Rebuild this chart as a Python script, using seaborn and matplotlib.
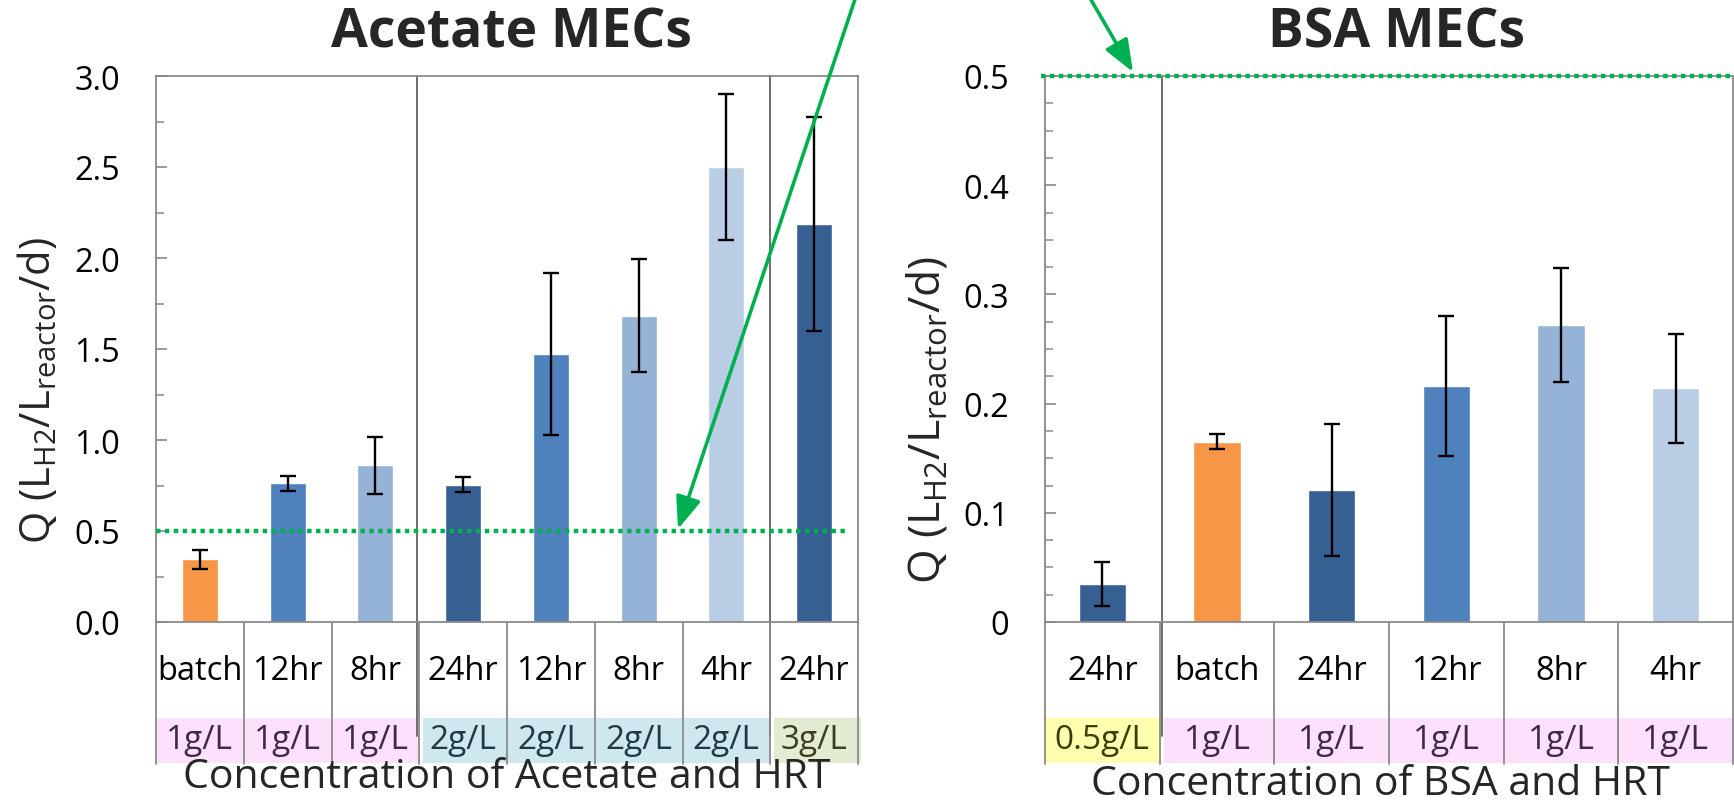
import numpy as np
import pandas as pd
import matplotlib
matplotlib.use("Agg")
import matplotlib.pyplot as plt
import seaborn as sns
from matplotlib import transforms
from matplotlib.lines import Line2D
from matplotlib.patches import Rectangle, FancyArrowPatch
from matplotlib.ticker import MultipleLocator, FuncFormatter

# ---------------- data ----------------
acetate_hrt = ["batch", "12hr", "8hr", "24hr", "12hr", "8hr", "4hr", "24hr"]
acetate_conc = ["1g/L", "1g/L", "1g/L", "2g/L", "2g/L", "2g/L", "2g/L", "3g/L"]
acetate_q = [0.345, 0.763, 0.862, 0.753, 1.474, 1.681, 2.50, 2.187]
acetate_lo = [0.293, 0.720, 0.705, 0.712, 1.027, 1.372, 2.10, 1.597]
acetate_hi = [0.393, 0.803, 1.018, 0.798, 1.919, 1.996, 2.899, 2.776]

bsa_hrt = ["24hr", "batch", "24hr", "12hr", "8hr", "4hr"]
bsa_conc = ["0.5g/L", "1g/L", "1g/L", "1g/L", "1g/L", "1g/L"]
bsa_q = [0.035, 0.165, 0.121, 0.216, 0.272, 0.214]
bsa_lo = [0.015, 0.158, 0.060, 0.152, 0.220, 0.164]
bsa_hi = [0.055, 0.1725, 0.181, 0.280, 0.324, 0.264]

threshold = 0.5

# ---------------- style ----------------
ORANGE, BLUE, LBLUE, LLBLUE, DBLUE = "#F79646", "#4F81BD", "#95B3D7", "#B9CDE5", "#376092"
hrt_color = {"batch": ORANGE, "12hr": BLUE, "8hr": LBLUE, "4hr": LLBLUE, "24hr": DBLUE}
conc_bg = {"0.5g/L": "#FFFFB0", "1g/L": "#FDE1FC", "2g/L": "#CFE8EF", "3g/L": "#E4EBD3"}
conc_fg = {"0.5g/L": "#3D3D05", "1g/L": "#3E2A45", "2g/L": "#1D3943", "3g/L": "#3A3F22"}
GREEN = "#00B050"
GRAY = "#8A8A8A"

sns.set_theme(style="white")
plt.rcParams["font.family"] = ["Open Sans", "DejaVu Sans"]
plt.rcParams["mathtext.fontset"] = "custom"
plt.rcParams["mathtext.rm"] = "Open Sans"
plt.rcParams["mathtext.it"] = "Open Sans:italic"
plt.rcParams["mathtext.bf"] = "Open Sans:bold"

W, H = 1734, 804
fig = plt.figure(figsize=(W / 100, H / 100), dpi=100)


def fx(px):
    return px / W


def fy(py):
    return 1 - py / H


def panel(left, right, hrt, conc, q, lo, hi, ymax, major, minor, group_bounds, fmt):
    ax = fig.add_axes([fx(left), fy(623), fx(right) - fx(left), fy(77) - fy(623)])
    n = len(q)
    keys = [f"{i}_{h}" for i, h in enumerate(hrt)]
    df = pd.DataFrame({"key": keys, "q": q})
    pal = {k: hrt_color[h] for k, h in zip(keys, hrt)}
    sns.barplot(data=df, x="key", y="q", hue="key", order=keys, palette=pal,
                width=0.41, saturation=1, errorbar=None, legend=False, ax=ax, zorder=2)
    q_arr, lo_arr, hi_arr = np.array(q), np.array(lo), np.array(hi)
    ax.errorbar(np.arange(n), q_arr, yerr=[q_arr - lo_arr, hi_arr - q_arr], fmt="none",
                ecolor="black", elinewidth=1.7, capsize=5.5, capthick=1.7, zorder=3)
    for s in ax.spines.values():
        s.set_color(GRAY)
        s.set_linewidth(1.3)
    ax.set_xticks([])
    ax.set_xlabel("")
    ax.set_ylabel("")
    ax.yaxis.set_major_locator(MultipleLocator(major))
    ax.yaxis.set_minor_locator(MultipleLocator(minor))
    ax.yaxis.set_major_formatter(FuncFormatter(fmt))
    ax.tick_params(axis="y", which="major", left=True, direction="in", length=8, width=1.2,
                   color=GRAY, labelsize=23.5, pad=26, labelcolor="black")
    ax.tick_params(axis="y", which="minor", left=True, direction="in", length=5.5, width=1.1,
                   color=GRAY)

    blend = transforms.blended_transform_factory(ax.transData, fig.transFigure)
    # category separators in the label area
    for b in np.arange(-0.5, n, 1.0):
        ax.add_line(Line2D([b, b], [fy(623), fy(765)], transform=blend, color=GRAY,
                           lw=1.3, clip_on=False))
    # group separators through plot
    for b in group_bounds:
        ax.add_line(Line2D([b, b], [fy(77), fy(737)], transform=blend, color="#6E6E6E",
                           lw=1.4, clip_on=False, zorder=1))
    # concentration backgrounds
    i = 0
    while i < n:
        j = i
        while j + 1 < n and conc[j + 1] == conc[i]:
            j += 1
        x0 = i - 0.5 + (0.04 if i > 0 else 0.0)
        x1 = j + 0.5 + (0.03 if j == n - 1 else 0.0)
        ax.add_patch(Rectangle((x0, fy(764)), x1 - x0, fy(719) - fy(764), transform=blend,
                               facecolor=conc_bg[conc[i]], edgecolor="none", clip_on=False,
                               zorder=0))
        i = j + 1
    for k in range(n):
        ax.text(k, fy(672), hrt[k], transform=blend, ha="center", va="center",
                fontsize=23.5, color="black")
        ax.text(k, fy(741), conc[k], transform=blend, ha="center", va="center",
                fontsize=24, color=conc_fg[conc[k]])
    ax.set_xlim(-0.5, n - 0.5)
    ax.set_ylim(0, ymax)
    return ax


axL = panel(156, 858, acetate_hrt, acetate_conc, acetate_q, acetate_lo, acetate_hi,
            3.0, 0.5, 0.25, [2.47, 6.5], lambda v, p: f"{v:.1f}")
axR = panel(1045, 1733, bsa_hrt, bsa_conc, bsa_q, bsa_lo, bsa_hi,
            0.5, 0.1, 0.025, [0.52], lambda v, p: "0" if abs(v) < 1e-9 else f"{v:.1f}")

# threshold lines
axL.axhline(threshold, xmin=0, xmax=(849 - 156) / 702, color=GREEN, lw=3.2,
            linestyle=(0, (1, 1)), dash_capstyle="butt", zorder=4)
axR.axhline(threshold, xmin=-0.006, xmax=1, color=GREEN, lw=3.2,
            linestyle=(0, (1, 1)), dash_capstyle="butt", zorder=4, clip_on=False)

# titles and labels
fig.text(fx(511), fy(33), "Acetate MECs", ha="center", va="center", fontsize=38.5,
         fontweight="bold")
fig.text(fx(1397), fy(33), "BSA MECs", ha="center", va="center", fontsize=38.5,
         fontweight="bold")
ylab = r"Q ($\mathregular{L_{H2}/L_{reactor}}$/d)"
fig.text(fx(38), fy(390), ylab, rotation=90, ha="center", va="center", fontsize=30)
fig.text(fx(928), fy(420), ylab, rotation=90, ha="center", va="center", fontsize=32)
fig.text(fx(507), fy(778), "Concentration of Acetate and HRT", ha="center", va="center",
         fontsize=29.5)
fig.text(fx(1380), fy(785), "Concentration of BSA and HRT", ha="center", va="center",
         fontsize=29.5)

# green arrows from a common point above the figure
origin = (fx(941), fy(-257))
for tip in [(678, 530), (1133, 73)]:
    fig.add_artist(FancyArrowPatch(origin, (fx(tip[0]), fy(tip[1])), transform=fig.transFigure,
                                   arrowstyle="-|>,head_length=1.4,head_width=0.55",
                                   mutation_scale=14, color=GREEN, lw=2.6,
                                   shrinkA=0, shrinkB=0, zorder=10))

fig.savefig("out.png", dpi=100, facecolor="white")
